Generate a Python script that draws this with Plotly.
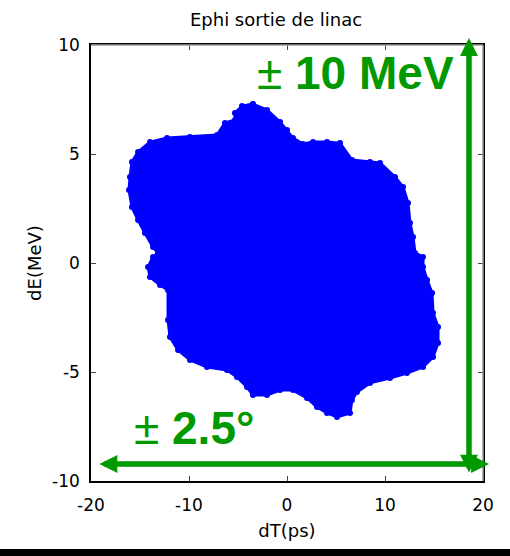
import plotly.graph_objects as go

# Beam outline (dT in ps, dE in MeV)
blob_dT = [-3.47, -2.04, -0.71, 0.00, 0.61, 1.63, 2.65, 4.08, 5.41, 6.63, 8.47, 9.49,
           11.02, 11.84, 12.35, 12.55, 12.86, 13.06, 13.88, 13.88, 14.29, 14.80, 14.90,
           15.41, 15.41, 14.90, 13.88, 12.24, 10.51, 8.47, 7.14, 6.63, 6.43, 5.10, 4.08,
           3.06, 2.04, 0.61, -0.71, -2.04, -3.47, -4.08, -5.10, -6.12, -8.16, -9.90,
           -11.12, -11.94, -12.14, -12.14, -12.96, -13.98, -14.18, -13.67, -13.16, -13.67,
           -14.49, -15.20, -15.82, -16.12, -16.02, -15.82, -15.20, -13.98, -12.24, -9.90,
           -7.14, -6.33, -5.31, -5.31, -4.59, -3.47]
blob_dE = [7.29, 7.02, 6.47, 6.10, 5.73, 5.46, 5.55, 5.55, 5.50, 4.72, 4.63, 4.59,
           3.94, 3.49, 2.75, 1.83, 1.19, 0.46, 0.28, -0.18, -0.78, -1.38, -2.29,
           -2.94, -3.67, -4.31, -4.77, -5.05, -5.28, -5.50, -5.92, -6.28, -6.88, -7.06, -6.88,
           -6.61, -6.19, -5.83, -5.83, -6.06, -6.06, -5.69, -5.23, -4.91, -4.77, -4.45,
           -3.99, -3.39, -2.61, -1.24, -1.01, -0.64, -0.18, 0.28, 0.46, 0.73,
           1.38, 1.97, 2.57, 3.35, 3.94, 4.63, 5.09, 5.55, 5.73, 5.78,
           5.87, 6.42, 6.56, 6.88, 7.20, 7.29]

x_ticks = [-20, -10, 0, 10, 20]
x_ticktext = ["-20", "-10", "0", "10", "20"]
y_ticks = [-10, -5, 0, 5, 10]
y_ticktext = ["-10", "-5", "0", "5", "10"]
x_range = [-20, 20]
y_range = [-10, 10]

title_text = "Ephi sortie de linac"
x_title = "dT(ps)"
y_title = "dE(MeV)"
energy_label = "± <b>10 MeV</b>"
phase_label = "± <b>2.5°</b>"

BLUE = "#0000ff"
GREEN = "#009900"
axis_font = dict(family="DejaVu Sans", size=17, color="black")
title_font = dict(family="DejaVu Sans", size=18, color="black")

fig = go.Figure()
fig.add_trace(go.Scatter(
    x=blob_dT, y=blob_dE, mode="lines+markers", fill="toself",
    fillcolor=BLUE, line=dict(color=BLUE, width=3),
    marker=dict(symbol="circle", size=6, color=BLUE),
    hoverinfo="skip", showlegend=False,
))

# green double arrows
fig.add_annotation(x=18.57, y=10.32, ax=18.57, ay=-9.68, xref="x", yref="y",
                   axref="x", ayref="y", text="", showarrow=True,
                   arrowhead=2, startarrowhead=2, arrowside="end+start",
                   arrowsize=0.65, startarrowsize=0.65, arrowwidth=5.5, arrowcolor=GREEN)
fig.add_annotation(x=20.61, y=-9.22, ax=-19.29, ay=-9.22, xref="x", yref="y",
                   axref="x", ayref="y", text="", showarrow=True,
                   arrowhead=2, startarrowhead=2, arrowside="end+start",
                   arrowsize=0.65, startarrowsize=0.65, arrowwidth=5.5, arrowcolor=GREEN)
fig.add_annotation(x=6.94, y=8.72, xref="x", yref="y", text=energy_label, showarrow=False,
                   font=dict(family="Liberation Sans", size=46, color=GREEN),
                   xanchor="center", yanchor="middle")
fig.add_annotation(x=-9.54, y=-7.59, xref="x", yref="y", text=phase_label, showarrow=False,
                   font=dict(family="Liberation Sans", size=46, color=GREEN),
                   xanchor="center", yanchor="middle")

# gray top/right frame and bottom black band
fig.add_shape(type="line", xref="paper", yref="paper", x0=0, x1=1, y0=1, y1=1,
              line=dict(color="#9a9a9a", width=1.5), layer="above")
fig.add_shape(type="line", xref="paper", yref="paper", x0=1, x1=1, y0=0, y1=1,
              line=dict(color="#9a9a9a", width=1.5), layer="above")
fig.add_shape(type="rect", xref="paper", yref="paper", x0=-0.24, x1=1.08,
              y0=-0.1744, y1=-0.1560, line=dict(width=0), fillcolor="black", layer="above")

fig.update_layout(
    width=510, height=556,
    margin=dict(l=91, r=27, t=45, b=75, autoexpand=False),
    paper_bgcolor="white", plot_bgcolor="white",
    title=dict(text=title_text, x=276 / 510, xanchor="center", xref="container",
               y=1 - 20 / 556, yref="container", yanchor="middle", font=title_font),
    xaxis=dict(range=x_range, tickvals=x_ticks, ticktext=x_ticktext, ticks="inside", ticklen=5,
               showline=True, linecolor="black", linewidth=1.5, mirror="ticks",
               showgrid=False, zeroline=False, tickfont=axis_font, automargin=False,
               ticklabelstandoff=8,
               title=dict(text=x_title, font=title_font, standoff=10)),
    yaxis=dict(range=y_range, tickvals=y_ticks, ticktext=y_ticktext, ticks="inside", ticklen=5,
               showline=True, linecolor="black", linewidth=1.5, mirror="ticks",
               showgrid=False, zeroline=False, tickfont=axis_font, automargin=False,
               ticklabelstandoff=6,
               title=dict(text=y_title, font=title_font, standoff=6)),
)

fig.write_html("out.html", config={"displayModeBar": False},
               post_script="document.body.style.margin='0';document.body.style.overflow='hidden';")
